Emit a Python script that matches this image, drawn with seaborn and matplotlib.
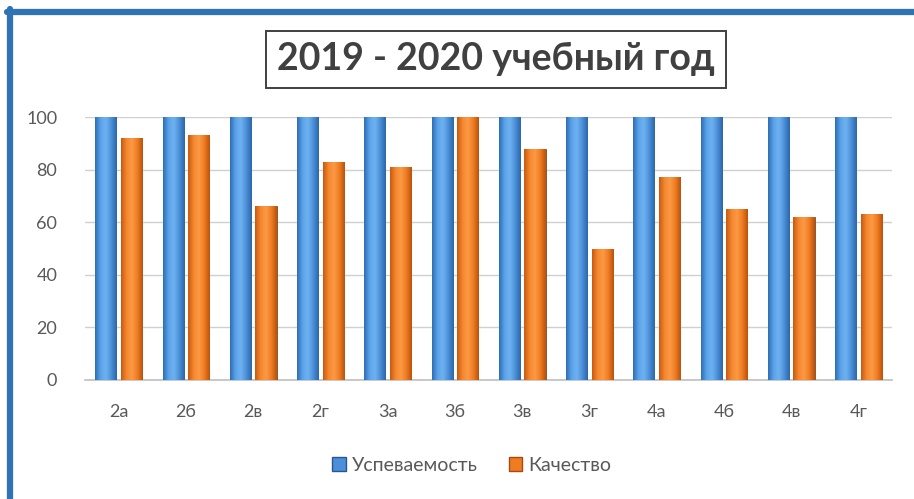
import numpy as np
import pandas as pd
import matplotlib
matplotlib.use('Agg')
import matplotlib.pyplot as plt
import seaborn as sns
from matplotlib.colors import LinearSegmentedColormap
from matplotlib.lines import Line2D
from matplotlib.patches import Patch

# данные с диаграммы
classes = ['2а', '2б', '2в', '2г', '3а', '3б', '3в', '3г', '4а', '4б', '4в', '4г']
uspev = [100, 100, 100, 100, 100, 100, 100, 100, 100, 100, 100, 100]
kachestvo = [92, 93, 66, 83, 81, 100, 88, 50, 77, 65, 62, 63]
series_names = ['Успеваемость', 'Качество']

df = pd.DataFrame({
    'Класс': classes * 2,
    'Значение': uspev + kachestvo,
    'Показатель': [series_names[0]] * len(classes) + [series_names[1]] * len(classes),
})

blue = '#4a8fd8'
orange = '#f07c22'
palette = {series_names[0]: blue, series_names[1]: orange}

sns.set_style('white')
plt.rcParams['font.family'] = ['Lato', 'DejaVu Sans']

fig = plt.figure(figsize=(9.14, 4.99), dpi=100)
ax = fig.add_axes([0.093, 0.2385, 0.883, 0.527])

sns.barplot(data=df, x='Класс', y='Значение', hue='Показатель', palette=palette,
            width=0.76, gap=0.17, saturation=1, legend=False, ax=ax, zorder=3)

# объёмная заливка столбцов
grad_cmaps = {
    blue: LinearSegmentedColormap.from_list('b', ['#2f6db5', '#5aa3ea', '#6fb2f0', '#4a8fd8', '#2c66a8']),
    orange: LinearSegmentedColormap.from_list('o', ['#c85a10', '#f5872e', '#fb9a45', '#f07c22', '#b9520c']),
}
grad = np.linspace(0, 1, 64).reshape(1, -1)
for bar in ax.patches:
    x0, y0 = bar.get_x(), bar.get_y()
    w, h = bar.get_width(), bar.get_height()
    if h <= 0:
        continue
    fc = matplotlib.colors.to_hex(bar.get_facecolor())
    cmap = grad_cmaps[blue] if fc == blue else grad_cmaps[orange]
    im = ax.imshow(grad, cmap=cmap, aspect='auto', extent=[x0, x0 + w, y0, y0 + h],
                   zorder=4, interpolation='bicubic')
    im.set_clip_path(bar)
    bar.set_edgecolor('#7a4a2a' if fc != blue else '#2a5790')
    bar.set_linewidth(0.6)

ax.set_xlim(-0.5, len(classes) - 0.5)
ax.set_ylim(0, 100)
ax.set_yticks(range(0, 101, 20))
ax.yaxis.grid(True, color='#d0d0d0', linewidth=1.0, zorder=0)
ax.set_axisbelow(True)
for s in ['left', 'right', 'top']:
    ax.spines[s].set_visible(False)
ax.spines['bottom'].set_color('#c0c0c0')
ax.spines['bottom'].set_linewidth(1.2)
ax.tick_params(axis='y', length=0, pad=20, labelsize=13, labelcolor='#595959')
ax.tick_params(axis='x', length=0, pad=17, labelsize=13, labelcolor='#595959')
ax.set_xlabel('')
ax.set_ylabel('')

# заголовок в рамке
fig.text(0.543, 0.881, '2019 - 2020 учебный год', ha='center', va='center',
         fontsize=27, fontweight='bold', color='#404040',
         bbox=dict(boxstyle='square,pad=0.3', facecolor='white', edgecolor='#404040', linewidth=1.4))

# легенда
handles = [Patch(facecolor=blue, edgecolor='#2a5790', label=series_names[0]),
           Patch(facecolor=orange, edgecolor='#a24a10', label=series_names[1])]
fig.legend(handles=handles, loc='center', bbox_to_anchor=(0.516, 0.068), ncol=2, frameon=False,
           fontsize=14, labelcolor='#595959', handlelength=0.7, handleheight=0.7,
           handletextpad=0.3, columnspacing=1.6)

# синяя рамка слева и сверху
fig.add_artist(Line2D([0.011, 0.011], [0, 0.982], transform=fig.transFigure, color='#2e74b5', linewidth=4.5))
fig.add_artist(Line2D([0.008, 1.0], [0.976, 0.976], transform=fig.transFigure, color='#2e74b5', linewidth=4.5))

fig.savefig('out.png', dpi=100, facecolor='white')
